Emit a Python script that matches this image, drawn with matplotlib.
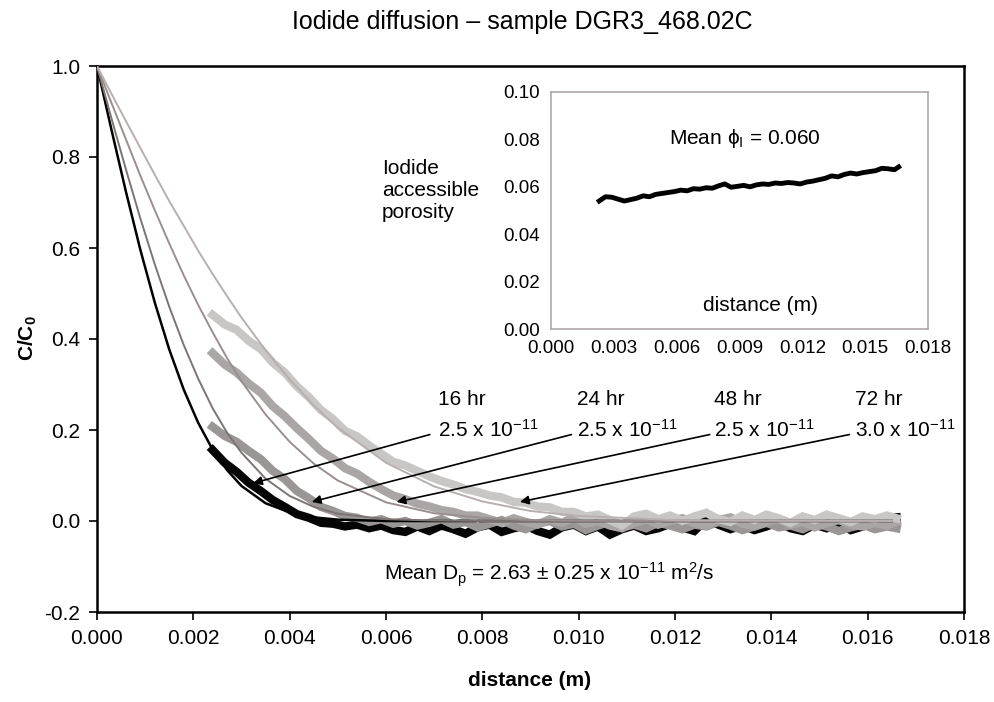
"""
Iodide diffusion profile for sample DGR3_468.02C.

Main panel: measured C/C0 profiles (thick noisy bands) and the fitted
diffusion model curves for the four exposure times.
Inset: iodide accessible porosity along the sample.
"""

import matplotlib
matplotlib.use("Agg")
import matplotlib.pyplot as plt

# === DATA ================================================================== #

TIMES = ["16 hr", "24 hr", "48 hr", "72 hr"]
DP_LABELS = ["2.5 x 10$^{-11}$", "2.5 x 10$^{-11}$", "2.5 x 10$^{-11}$", "3.0 x 10$^{-11}$"]

# model curves, common distance grid (m)
MODEL_DIST = [0.0, 0.0003, 0.0006, 0.0009, 0.0012, 0.0015, 0.0018, 0.0021,
              0.0024, 0.0027, 0.0030, 0.0035, 0.0040, 0.0045, 0.0050, 0.0060,
              0.0070, 0.0080, 0.0090, 0.0100, 0.0120, 0.0165]
MODEL_16 = [1.0, 0.860, 0.724, 0.596, 0.480, 0.377, 0.289, 0.216,
            0.157, 0.112, 0.077, 0.039, 0.019, 0.008, 0.003, 0.000,
            0.000, 0.000, 0.000, 0.000, 0.000, 0.000]
MODEL_24 = [1.0, 0.885, 0.773, 0.665, 0.564, 0.471, 0.387, 0.313,
            0.248, 0.194, 0.150, 0.093, 0.055, 0.031, 0.016, 0.004,
            0.001, 0.000, 0.000, 0.000, 0.000, 0.000]
MODEL_48 = [1.0, 0.919, 0.839, 0.759, 0.683, 0.610, 0.540, 0.475,
            0.415, 0.358, 0.307, 0.234, 0.174, 0.126, 0.089, 0.041,
            0.017, 0.007, 0.002, 0.001, 0.000, 0.000]
MODEL_72 = [1.0, 0.939, 0.879, 0.820, 0.761, 0.703, 0.649, 0.594,
            0.543, 0.494, 0.447, 0.375, 0.311, 0.254, 0.205, 0.128,
            0.076, 0.043, 0.022, 0.011, 0.002, 0.000]

# measured profiles, common distance grid (m)
MEAS_DIST = [0.0024, 0.00265, 0.0029, 0.00315, 0.0034, 0.00365, 0.0039, 0.00415,
             0.0044, 0.00465, 0.0049, 0.00515, 0.0054, 0.00565, 0.0059, 0.00615,
             0.0064, 0.00665, 0.0069, 0.00715, 0.0074, 0.00765, 0.0079, 0.00815,
             0.0084, 0.00865, 0.0089, 0.00915, 0.0094, 0.00965, 0.0099, 0.01015,
             0.0104, 0.01065, 0.0109, 0.01115, 0.0114, 0.01165, 0.0119, 0.01215,
             0.0124, 0.01265, 0.0129, 0.01315, 0.0134, 0.01365, 0.0139, 0.01415,
             0.0144, 0.01465, 0.0149, 0.01515, 0.0154, 0.01565, 0.0159, 0.01615,
             0.0164, 0.0166]
MEAS_16 = [0.156, 0.128, 0.108, 0.084, 0.066, 0.046, 0.031, 0.015,
           0.007, -0.004, -0.006, -0.012, -0.008, -0.016, -0.010, -0.020,
           -0.024, -0.012, -0.022, -0.010, -0.018, -0.028, -0.014, -0.008,
           -0.024, -0.016, -0.010, -0.022, -0.030, -0.014, -0.008, -0.022,
           -0.012, -0.030, -0.018, -0.010, -0.022, -0.016, -0.006, -0.014,
           -0.022, 0.004, -0.008, -0.018, -0.010, -0.020, -0.012, -0.002,
           -0.016, -0.022, -0.008, -0.016, -0.006, -0.020, -0.012, -0.004,
           0.006, 0.008]
MEAS_24 = [0.207, 0.187, 0.174, 0.154, 0.136, 0.110, 0.092, 0.066,
           0.050, 0.031, 0.022, 0.011, 0.007, -0.002, 0.004, -0.006,
           0.000, -0.010, -0.004, 0.004, -0.008, -0.002, -0.014, -0.006,
           0.002, -0.010, -0.018, -0.006, 0.000, -0.012, -0.006, -0.020,
           -0.010, -0.002, -0.014, -0.008, -0.016, -0.004, -0.010, -0.018,
           -0.008, -0.012, -0.002, -0.010, -0.020, -0.012, -0.004, -0.014,
           -0.010, -0.018, -0.006, -0.012, -0.022, -0.014, -0.008, -0.018,
           -0.012, -0.016]
MEAS_48 = [0.369, 0.344, 0.326, 0.302, 0.282, 0.252, 0.230, 0.204,
           0.180, 0.154, 0.137, 0.116, 0.104, 0.086, 0.070, 0.056,
           0.048, 0.038, 0.032, 0.024, 0.020, 0.012, 0.012, 0.004,
           -0.004, 0.006, -0.002, -0.008, 0.004, -0.004, 0.008, -0.006,
           0.000, -0.010, -0.016, -0.004, 0.004, -0.008, 0.000, 0.006,
           -0.004, -0.010, 0.002, 0.008, -0.006, -0.012, -0.002, 0.004,
           -0.008, -0.002, -0.014, -0.004, 0.002, -0.008, -0.012, -0.004,
           -0.010, -0.002]
MEAS_72 = [0.453, 0.432, 0.420, 0.396, 0.378, 0.348, 0.326, 0.296,
           0.272, 0.244, 0.224, 0.198, 0.186, 0.166, 0.148, 0.130,
           0.122, 0.110, 0.098, 0.088, 0.080, 0.070, 0.064, 0.056,
           0.052, 0.042, 0.040, 0.032, 0.030, 0.020, 0.020, 0.010,
           0.014, 0.002, -0.010, 0.010, 0.016, 0.004, 0.012, 0.000,
           0.010, 0.018, 0.004, -0.002, 0.012, 0.002, 0.014, 0.006,
           -0.004, 0.010, 0.002, 0.014, 0.006, -0.002, 0.010, 0.004,
           0.012, 0.006]

# inset: iodide accessible porosity
POR_DIST = [0.0023, 0.0026, 0.0029, 0.0032, 0.0035, 0.0038, 0.0041, 0.0044,
            0.0047, 0.0050, 0.0053, 0.0056, 0.0059, 0.0062, 0.0065, 0.0068,
            0.0071, 0.0074, 0.0077, 0.0080, 0.0083, 0.0086, 0.0089, 0.0092,
            0.0095, 0.0098, 0.0101, 0.0104, 0.0107, 0.0110, 0.0113, 0.0116,
            0.0119, 0.0122, 0.0125, 0.0128, 0.0131, 0.0134, 0.0137, 0.0140,
            0.0143, 0.0146, 0.0149, 0.0152, 0.0155, 0.0158, 0.0161, 0.0164,
            0.0166]
POROSITY = [0.0540, 0.0558, 0.0556, 0.0548, 0.0540, 0.0546, 0.0552, 0.0562,
            0.0558, 0.0568, 0.0572, 0.0576, 0.0580, 0.0586, 0.0583, 0.0592,
            0.0590, 0.0596, 0.0594, 0.0604, 0.0612, 0.0598, 0.0602, 0.0606,
            0.0600, 0.0608, 0.0612, 0.0610, 0.0616, 0.0614, 0.0618, 0.0616,
            0.0612, 0.0620, 0.0624, 0.0630, 0.0636, 0.0646, 0.0642, 0.0652,
            0.0658, 0.0654, 0.0660, 0.0664, 0.0668, 0.0678, 0.0676, 0.0672,
            0.0684]

# === STYLE ================================================================= #

plt.rcParams["font.family"] = ["Liberation Sans", "DejaVu Sans"]
plt.rcParams["mathtext.fontset"] = "custom"
plt.rcParams["mathtext.rm"] = "Liberation Sans"
plt.rcParams["mathtext.it"] = "Liberation Sans:italic"
plt.rcParams["mathtext.bf"] = "Liberation Sans:bold"

MODEL_COLORS = ["#000000", "#7d7474", "#998f8f", "#b8afaf"]
MEAS_COLORS = ["#050505", "#9a9696", "#aaa6a6", "#c9c6c6"]
FS = 15

W, H = 995, 702


def fx(px):
    return px / W


def fy(py):
    return 1 - py / H


# === PLOT ================================================================== #

fig = plt.figure(figsize=(9.95, 7.02), dpi=100)
ax = fig.add_axes([fx(97), fy(612), (964 - 97) / W, (612 - 66) / H])

models = [MODEL_16, MODEL_24, MODEL_48, MODEL_72]
meas = [MEAS_16, MEAS_24, MEAS_48, MEAS_72]

for ys, c in zip(meas, MEAS_COLORS):
    ax.plot(MEAS_DIST, ys, color=c, lw=6, solid_joinstyle="miter", zorder=3)
for ys, c in zip(models, MODEL_COLORS):
    ax.plot(MODEL_DIST, ys, color=c, lw=1.8 if c == "#000000" else 1.4, zorder=4)

ax.set_xlim(0, 0.018)
ax.set_ylim(-0.2, 1.0)
ax.set_xticks([i * 0.002 for i in range(10)])
ax.set_xticklabels([f"{i * 0.002:.3f}" for i in range(10)])
ax.set_yticks([-0.2, 0.0, 0.2, 0.4, 0.6, 0.8, 1.0])
ax.set_yticklabels(["-0.2", "0.0", "0.2", "0.4", "0.6", "0.8", "1.0"])
ax.tick_params(direction="out", length=6, width=1.2, labelsize=FS, pad=6)
for s in ax.spines.values():
    s.set_linewidth(1.8)

# arrows + labels for the four model runs
heads = [(0.00324, 0.083), (0.00446, 0.042), (0.00622, 0.042), (0.00878, 0.042)]
tails = [0.00691, 0.00985, 0.01272, 0.01562]
text_x = [0.00707, 0.00996, 0.01282, 0.01573]
for t, dp, head, tx, lx in zip(TIMES, DP_LABELS, heads, tails, text_x):
    ax.annotate("", xy=head, xytext=(tx, 0.190),
                arrowprops=dict(arrowstyle="-|>", color="black", lw=1.2,
                                mutation_scale=13, shrinkA=0, shrinkB=0),
                zorder=5)
    ax.text(lx, 0.266, t, fontsize=FS, va="center", ha="left")
    ax.text(lx, 0.200, dp, fontsize=FS, va="center", ha="left")

ax.text(0.00595, -0.119,
        "Mean D$_\\mathrm{p}$ = 2.63 \u00b1 0.25 x 10$^{-11}$ m$^2$/s",
        fontsize=FS, va="center", ha="left")

fig.text(fx(530), fy(680), "distance (m)", fontsize=FS, fontweight="bold",
         ha="center", va="center")
fig.text(fx(28), fy(338), "C/C$_\\mathbf{0}$", fontsize=FS, fontweight="bold",
         rotation=90, ha="center", va="center")
fig.text(fx(522), fy(22), "Iodide diffusion \u2013 sample DGR3_468.02C",
         fontsize=18, ha="center", va="center")
fig.text(fx(382), fy(191), "Iodide\naccessible\nporosity", fontsize=FS,
         ha="left", va="center", linespacing=1.2)

# inset: porosity
ins = fig.add_axes([fx(551), fy(329), 377 / W, 237 / H])
ins.plot(POR_DIST, POROSITY, color="black", lw=3.5, zorder=3)
ins.set_xlim(0, 0.018)
ins.set_ylim(0, 0.10)
ins.set_xticks([i * 0.003 for i in range(7)])
ins.set_xticklabels([f"{i * 0.003:.3f}" for i in range(7)])
ins.set_yticks([0.0, 0.02, 0.04, 0.06, 0.08, 0.10])
ins.set_yticklabels(["0.00", "0.02", "0.04", "0.06", "0.08", "0.10"])
ins.tick_params(length=0, labelsize=13.5, pad=8)
for s in ins.spines.values():
    s.set_color("#b0a8a8")
    s.set_linewidth(1.2)
ins.text(0.00926, 0.0802, "Mean \u03d5$_\\mathrm{I}$ = 0.060", fontsize=FS,
         ha="center", va="center")
ins.text(0.00998, 0.0101, "distance (m)", fontsize=FS, ha="center", va="center")

fig.savefig("out.png", dpi=100)
